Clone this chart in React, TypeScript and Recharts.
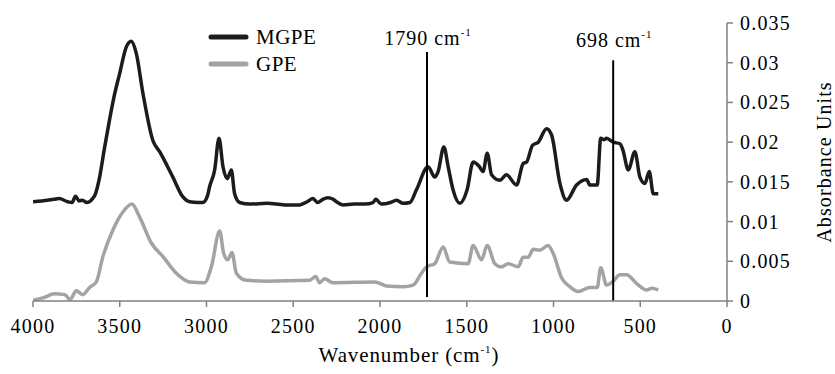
import React from 'react';
import { LineChart, Line, XAxis, YAxis, ReferenceLine } from 'recharts';

const xTicks = [4000, 3500, 3000, 2500, 2000, 1500, 1000, 500, 0];
const yTicks = [0, 0.005, 0.01, 0.015, 0.02, 0.025, 0.03, 0.035];

const mgpeWavenumber = [
  4000, 3950, 3880, 3850, 3800, 3775, 3755, 3735, 3715, 3690, 3660, 3640, 3616, 3590, 3559, 3530, 3501, 3462, 3434, 3405,
  3366, 3309, 3270, 3194, 3136, 3097, 3050, 3021, 2995, 2982, 2953, 2928, 2905, 2880, 2857, 2838, 2809, 2750, 2650, 2550,
  2463, 2420, 2386, 2360, 2330, 2300, 2270, 2251, 2213, 2150, 2086, 2040, 2024, 1992, 1940, 1905, 1867, 1828, 1790, 1723,
  1684, 1665, 1632, 1607, 1579, 1540, 1498, 1463, 1430, 1406, 1382, 1357, 1309, 1271, 1213, 1175, 1155, 1121, 1088, 1040,
  1011, 963, 925, 867, 809, 790, 748, 728, 710, 694, 656, 617, 600, 569, 531, 502, 473, 448, 425, 396,
];
const mgpeAbsorbance = [
  0.0125, 0.0126, 0.0128, 0.0129, 0.0125, 0.0124, 0.0132, 0.0126, 0.0127, 0.0124, 0.0128, 0.0135, 0.0156, 0.019, 0.0228, 0.026, 0.0286, 0.032, 0.0327, 0.0312,
  0.0261, 0.0202, 0.0188, 0.0156, 0.0131, 0.0125, 0.0124, 0.0124, 0.0132, 0.0144, 0.0165, 0.0205, 0.0169, 0.0154, 0.0165, 0.0135, 0.0124, 0.0122, 0.0123, 0.0121,
  0.0121, 0.0125, 0.0129, 0.0124, 0.0128, 0.013, 0.0128, 0.0125, 0.0121, 0.0122, 0.0122, 0.0124, 0.0128, 0.0122, 0.0124, 0.0127, 0.0123, 0.0124, 0.014, 0.0169,
  0.0156, 0.0163, 0.0194, 0.0169, 0.014, 0.0123, 0.014, 0.0175, 0.017, 0.0163, 0.0186, 0.0159, 0.0152, 0.0159, 0.0146, 0.0173, 0.0175, 0.0196, 0.02, 0.0217,
  0.0209, 0.0148, 0.0127, 0.0146, 0.0153, 0.0146, 0.0146, 0.0205, 0.0203, 0.0205, 0.02, 0.0198, 0.019, 0.0165, 0.0188, 0.0156, 0.0148, 0.0163, 0.0135, 0.0135,
];

const gpeWavenumber = [
  4000, 3943, 3876, 3818, 3785, 3751, 3713, 3674, 3635, 3597, 3540, 3482, 3430, 3386, 3318, 3251, 3174, 3097, 3011, 2972,
  2924, 2901, 2878, 2853, 2828, 2770, 2655, 2405, 2371, 2348, 2320, 2271, 2030, 1963, 1867, 1809, 1761, 1732, 1684, 1636,
  1598, 1492, 1463, 1415, 1382, 1338, 1300, 1261, 1204, 1175, 1146, 1117, 1079, 1031, 1002, 953, 906, 858, 790, 748,
  728, 694, 656, 617, 578, 521, 463, 434, 396,
];
const gpeAbsorbance = [
  0.0001, 0.0004, 0.0009, 0.0008, 0.0002, 0.0013, 0.0008, 0.0017, 0.0024, 0.0056, 0.0089, 0.0112, 0.0122, 0.0106, 0.0073, 0.0056, 0.0035, 0.0024, 0.0023, 0.0043,
  0.0088, 0.006, 0.0052, 0.0061, 0.0035, 0.0026, 0.0025, 0.0026, 0.0031, 0.0023, 0.0028, 0.0023, 0.0024, 0.0019, 0.0018, 0.002, 0.0035, 0.0043, 0.0047, 0.0068,
  0.0049, 0.0047, 0.007, 0.0052, 0.007, 0.0047, 0.0043, 0.0047, 0.0043, 0.0055, 0.0055, 0.0065, 0.0064, 0.007, 0.006, 0.0029, 0.0018, 0.0012, 0.0017, 0.0017,
  0.0042, 0.002, 0.0025, 0.0033, 0.0033, 0.0022, 0.0014, 0.0016, 0.0014,
];

const markerWavenumber = [1729, 656];
const markerLabels = ['1790', '698'];
const markerTop = [0.03135, 0.0303];
const markerBottom = [0.0005, 0];
const markerLabelGap = [7, 13];

const seriesNames = ['MGPE', 'GPE'];
const seriesColors = ['#1c1c1c', '#a3a3a3'];

const mgpeData = mgpeWavenumber.map((x, i) => ({ x, y: mgpeAbsorbance[i] }));
const gpeData = gpeWavenumber.map((x, i) => ({ x, y: gpeAbsorbance[i] }));

const FONT = 'Liberation Serif';
const AXIS = '#808080';

const XTick = (props: any) => {
  const { x, y, payload } = props;
  return (
    <text x={x} y={y + 14} textAnchor="middle" fontSize={20} letterSpacing={1.2} fill="#000" fontFamily={FONT}>
      {String(payload.value)}
    </text>
  );
};

const YTick = (props: any) => {
  const { x, y, payload } = props;
  return (
    <text x={x} y={y + 7} textAnchor="start" fontSize={20} letterSpacing={1.2} fill="#000" fontFamily={FONT}>
      {String(payload.value)}
    </text>
  );
};

const MarkerLabel = (props: any) => {
  const { viewBox, text, gap } = props;
  const cx = viewBox.x + (viewBox.width || 0) / 2 + 1;
  return (
    <text x={cx} y={viewBox.y - gap} textAnchor="middle" fontSize={20} letterSpacing={1} fill="#000" fontFamily={FONT}>
      {text} cm<tspan dy={-9} fontSize={11}>-1</tspan>
    </text>
  );
};

const XLabel = (props: any) => {
  const { viewBox } = props;
  return (
    <text x={viewBox.x + viewBox.width / 2 + 29} y={viewBox.y + 61} textAnchor="middle" fontSize={21} letterSpacing={0.9} fill="#000" fontFamily={FONT}>
      Wavenumber (cm<tspan dy={-9} fontSize={11}>-1</tspan><tspan dy={9}>)</tspan>
    </text>
  );
};

const YLabel = (props: any) => {
  const { viewBox } = props;
  const x = viewBox.x + 97;
  const y = viewBox.y + viewBox.height / 2;
  return (
    <text x={x} y={y} textAnchor="middle" dominantBaseline="central" transform={`rotate(-90 ${x} ${y})`} fontSize={20} letterSpacing={1.1} fill="#000" fontFamily={FONT}>
      Absorbance Units
    </text>
  );
};

const LegendBox = () => (
  <div style={{ position: 'absolute', left: 208, top: 24, fontFamily: FONT, fontSize: 21, letterSpacing: 0.5, color: '#000' }}>
    {seriesNames.map((name, i) => (
      <div key={name} style={{ display: 'flex', alignItems: 'center', height: 26.6, lineHeight: '26.6px' }}>
        <svg width={42} height={8} style={{ display: 'block' }}>
          <line x1={3} y1={4} x2={38} y2={4} stroke={seriesColors[i]} strokeWidth={5} strokeLinecap="round" />
        </svg>
        <span style={{ marginLeft: 6 }}>{name}</span>
      </div>
    ))}
  </div>
);

export default function App() {
  return (
    <div style={{ position: 'absolute', left: 0, top: 0, width: 835, height: 374, background: '#fff' }}>
      <LineChart width={835} height={374} margin={{ top: 23, right: 0, left: 33, bottom: 0 }}>
        <XAxis
          dataKey="x"
          type="number"
          domain={[0, 4000]}
          reversed
          ticks={xTicks}
          interval={0}
          height={73}
          stroke={AXIS}
          strokeWidth={1.5}
          tickSize={6}
          tickMargin={12}
          tick={<XTick />}
          allowDataOverflow
          label={{ content: (p: any) => <XLabel {...p} /> }}
        />
        <YAxis
          orientation="right"
          type="number"
          domain={[0, 0.035]}
          ticks={yTicks}
          interval={0}
          width={108}
          stroke={AXIS}
          strokeWidth={1.5}
          tickSize={6}
          tickMargin={7}
          tick={<YTick />}
          allowDataOverflow
          label={{ content: (p: any) => <YLabel {...p} /> }}
        />
        <Line data={mgpeData} dataKey="y" name={seriesNames[0]} type="monotone" stroke={seriesColors[0]} strokeWidth={3.5} dot={false} isAnimationActive={false} />
        <Line data={gpeData} dataKey="y" name={seriesNames[1]} type="monotone" stroke={seriesColors[1]} strokeWidth={3.5} dot={false} isAnimationActive={false} />
        {markerWavenumber.map((w, i) => (
          <ReferenceLine
            key={w}
            segment={[{ x: w, y: markerBottom[i] }, { x: w, y: markerTop[i] }]}
            stroke="#000"
            strokeWidth={2}
            ifOverflow="visible"
            label={{ content: (p: any) => <MarkerLabel {...p} text={markerLabels[i]} gap={markerLabelGap[i]} /> }}
          />
        ))}
      </LineChart>
      <LegendBox />
    </div>
  );
}
